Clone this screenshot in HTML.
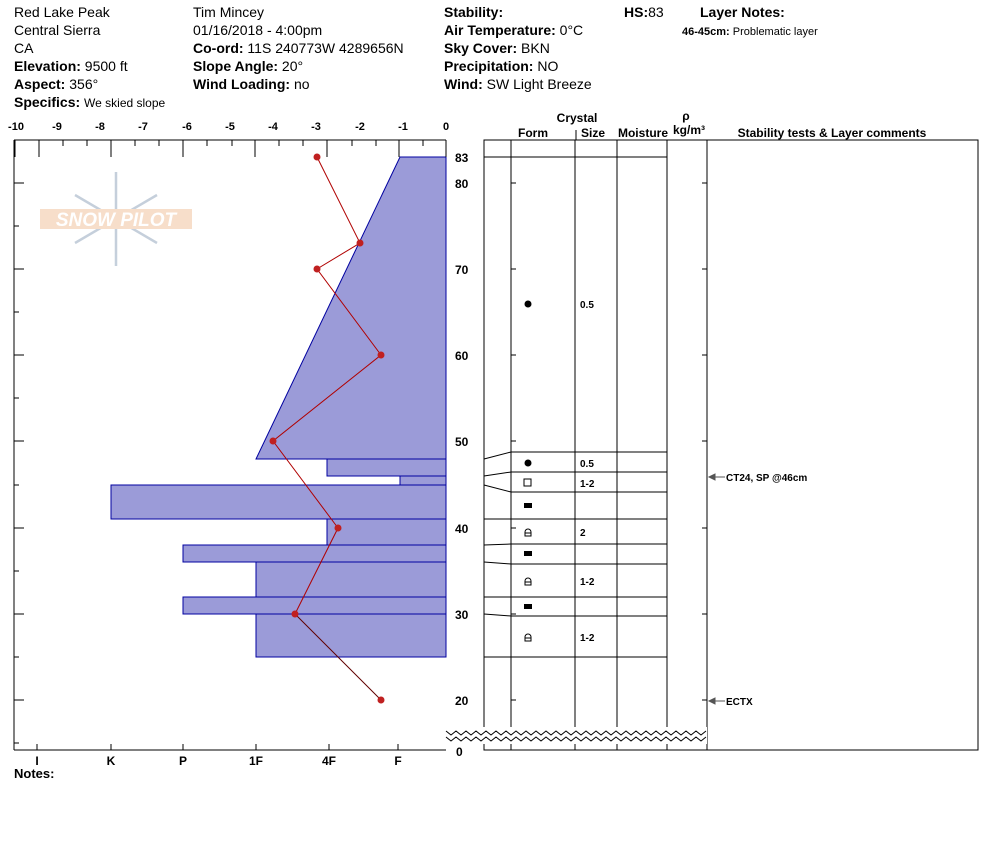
<!DOCTYPE html>
<html><head><meta charset="utf-8"><style>
body{margin:0;background:#fff;width:994px;height:840px;overflow:hidden}
svg{font-family:"Liberation Sans",Arial,sans-serif}
</style></head><body>
<svg width="994" height="840" viewBox="0 0 994 840" xmlns="http://www.w3.org/2000/svg">
<g font-size="14" fill="#000">
<text x="14" y="17">Red Lake Peak</text>
<text x="14" y="35">Central Sierra</text>
<text x="14" y="53">CA</text>
<text x="14" y="71"><tspan font-weight="bold">Elevation:</tspan> 9500 ft</text>
<text x="14" y="89"><tspan font-weight="bold">Aspect:</tspan> 356°</text>
<text x="14" y="107"><tspan font-weight="bold">Specifics:</tspan> <tspan font-size="12">We skied slope</tspan></text>
<text x="193" y="17">Tim Mincey</text>
<text x="193" y="35">01/16/2018 - 4:00pm</text>
<text x="193" y="53"><tspan font-weight="bold">Co-ord:</tspan> 11S 240773W 4289656N</text>
<text x="193" y="71"><tspan font-weight="bold">Slope Angle:</tspan> 20°</text>
<text x="193" y="89"><tspan font-weight="bold">Wind Loading:</tspan> no</text>
<text x="444" y="17" font-weight="bold">Stability:</text>
<text x="444" y="35"><tspan font-weight="bold">Air Temperature:</tspan> 0°C</text>
<text x="444" y="53"><tspan font-weight="bold">Sky Cover:</tspan> BKN</text>
<text x="444" y="71"><tspan font-weight="bold">Precipitation:</tspan> NO</text>
<text x="444" y="89"><tspan font-weight="bold">Wind:</tspan>  SW Light Breeze</text>
<text x="624" y="17"><tspan font-weight="bold">HS:</tspan>83</text>
<text x="700" y="17" font-weight="bold">Layer Notes:</text>
<text x="682" y="35" font-size="11"><tspan font-weight="bold">46-45cm:</tspan> Problematic layer</text>
</g>
<g opacity="0.6">
<g stroke="#9fb0c4" stroke-width="2.5" fill="none">
<line x1="116" y1="172" x2="116" y2="266"/>
<line x1="75" y1="195" x2="157" y2="243"/>
<line x1="75" y1="243" x2="157" y2="195"/>
</g>
<rect x="40" y="209" width="152" height="20" fill="#f2c9a8"/>
<text x="116" y="226" font-size="19" font-weight="bold" fill="#fff" text-anchor="middle" font-style="italic">SNOW PILOT</text>
</g>
<g fill="#9b9bd8" stroke="#0000a0" stroke-width="1">
<polygon points="400,157 446,157 446,459 256,459"/>
<rect x="327" y="459" width="119" height="17"/>
<rect x="400" y="476" width="46" height="9"/>
<rect x="111" y="485" width="335" height="34"/>
<rect x="327" y="519" width="119" height="26"/>
<rect x="183" y="545" width="263" height="17"/>
<rect x="256" y="562" width="190" height="35"/>
<rect x="183" y="597" width="263" height="17"/>
<rect x="256" y="614" width="190" height="43"/>
</g>
<g stroke="#000" stroke-width="1" fill="none">
<line x1="14" y1="140" x2="446" y2="140"/>
<line x1="14" y1="140" x2="14" y2="750"/>
<line x1="14" y1="750" x2="446" y2="750"/>
<line x1="446" y1="140" x2="446" y2="157"/>
<path d="M15 140v17M39 140v17M111 140v17M183 140v17M255 140v17M327 140v17M399 140v17"/>
<path d="M63 140v6M87 140v6M135 140v6M159 140v6M207 140v6M232 140v6M279 140v6M303 140v6M352 140v6M376 140v6M423 140v6"/>
<path d="M14 183h10M14 226h5M14 269h10M14 312h5M14 355h10M14 398h5M14 441h10M14 485h5M14 528h10M14 571h5M14 614h10M14 657h5M14 700h10M14 743h5"/>
<path d="M37 750v-6M111 750v-6M183 750v-6M256 750v-6M329 750v-6M398 750v-6"/>
</g>
<g font-size="11" font-weight="bold" text-anchor="middle">
<text x="16" y="130">-10</text><text x="57" y="130">-9</text><text x="100" y="130">-8</text><text x="143" y="130">-7</text><text x="187" y="130">-6</text><text x="230" y="130">-5</text><text x="273" y="130">-4</text><text x="316" y="130">-3</text><text x="360" y="130">-2</text><text x="403" y="130">-1</text><text x="446" y="130">0</text>
</g>
<polyline points="317,157 360,243 317,269 381,355 273,441 338,528 295,614" fill="none" stroke="#b00000" stroke-width="1"/>
<line x1="295" y1="614" x2="381" y2="700" stroke="#600000" stroke-width="1"/>
<g fill="#c02020">
<circle cx="317" cy="157" r="3.5"/><circle cx="360" cy="243" r="3.5"/><circle cx="317" cy="269" r="3.5"/><circle cx="381" cy="355" r="3.5"/><circle cx="273" cy="441" r="3.5"/><circle cx="338" cy="528" r="3.5"/><circle cx="295" cy="614" r="3.5"/><circle cx="381" cy="700" r="3.5"/>
</g>
<g font-size="12" font-weight="bold">
<text x="455" y="162">83</text><text x="455" y="188">80</text><text x="455" y="274">70</text><text x="455" y="360">60</text><text x="455" y="446">50</text><text x="455" y="533">40</text><text x="455" y="619">30</text><text x="455" y="705">20</text><text x="456" y="756">0</text>
</g>
<g font-size="12" font-weight="bold" text-anchor="middle">
<text x="37" y="765">I</text><text x="111" y="765">K</text><text x="183" y="765">P</text><text x="256" y="765">1F</text><text x="329" y="765">4F</text><text x="398" y="765">F</text>
</g>
<text x="14" y="778" font-size="13" font-weight="bold">Notes:</text>
<g font-size="12" font-weight="bold" text-anchor="middle">
<text x="577" y="122">Crystal</text>
<text x="533" y="137">Form</text><text x="593" y="137">Size</text><text x="643" y="137">Moisture</text>
<text x="686" y="120">ρ</text><text x="689" y="134">kg/m³</text>
<text x="832" y="137">Stability tests &amp; Layer comments</text>
</g>
<line x1="576" y1="130" x2="576" y2="140" stroke="#000"/>
<g stroke="#000" stroke-width="1" fill="none">
<rect x="484" y="140" width="494" height="610"/>
<line x1="511" y1="140" x2="511" y2="750"/>
<line x1="575" y1="140" x2="575" y2="750"/>
<line x1="617" y1="140" x2="617" y2="750"/>
<line x1="667" y1="140" x2="667" y2="750"/>
<line x1="707" y1="140" x2="707" y2="750"/>
<line x1="484" y1="157" x2="667" y2="157"/>
<path d="M511 452H667M511 472H667M511 492H667M511 519H667M511 544H667M511 564H667M511 597H667M511 616H667M511 657H667"/>
<path d="M484 459L511 452M484 476L511 472M484 485L511 492M484 519H511M484 545L511 544M484 562L511 564M484 597H511M484 614L511 616M484 657H511"/>
<path d="M511 183h5M511 269h5M511 355h5M511 441h5M511 528h5M511 614h5M511 700h5M707 183h-5M707 269h-5M707 355h-5M707 441h-5M707 528h-5M707 614h-5M707 700h-5"/>
</g>
<rect x="446" y="727" width="261" height="17" fill="#fff"/>
<polyline fill="none" stroke="#000" stroke-width="1" points="446,731 451,735 456,731 461,735 466,731 471,735 476,731 481,735 486,731 491,735 496,731 501,735 506,731 511,735 516,731 521,735 526,731 531,735 536,731 541,735 546,731 551,735 556,731 561,735 566,731 571,735 576,731 581,735 586,731 591,735 596,731 601,735 606,731 611,735 616,731 621,735 626,731 631,735 636,731 641,735 646,731 651,735 656,731 661,735 666,731 671,735 676,731 681,735 686,731 691,735 696,731 701,735 706,731"/>
<polyline fill="none" stroke="#000" stroke-width="1" points="446,737 451,741 456,737 461,741 466,737 471,741 476,737 481,741 486,737 491,741 496,737 501,741 506,737 511,741 516,737 521,741 526,737 531,741 536,737 541,741 546,737 551,741 556,737 561,741 566,737 571,741 576,737 581,741 586,737 591,741 596,737 601,741 606,737 611,741 616,737 621,741 626,737 631,741 636,737 641,741 646,737 651,741 656,737 661,741 666,737 671,741 676,737 681,741 686,737 691,741 696,737 701,741 706,737"/>
<g fill="#000">
<circle cx="528" cy="304" r="3.5"/><circle cx="528" cy="463" r="3.5"/>
<rect x="524" y="503" width="8" height="5"/><rect x="524" y="551" width="8" height="5"/><rect x="524" y="604" width="8" height="5"/>
</g>
<rect x="524" y="479" width="7" height="7" fill="none" stroke="#000"/>
<g fill="none" stroke="#000" stroke-width="1">
<path d="M525 536v-4a3 3 0 0 1 6 0v4zM525 533h6"/>
<path d="M525 585v-4a3 3 0 0 1 6 0v4zM525 582h6"/>
<path d="M525 641v-4a3 3 0 0 1 6 0v4zM525 638h6"/>
</g>
<g font-size="10" font-weight="bold">
<text x="580" y="308">0.5</text><text x="580" y="467">0.5</text><text x="580" y="487">1-2</text><text x="580" y="536">2</text><text x="580" y="585">1-2</text><text x="580" y="641">1-2</text>
<text x="726" y="481">CT24, SP @46cm</text><text x="726" y="705">ECTX</text>
</g>
<path d="M709 477h16M709 477l6-3v6zM709 701h16M709 701l6-3v6z" stroke="#555" fill="#555"/>
</svg>
</body></html>
